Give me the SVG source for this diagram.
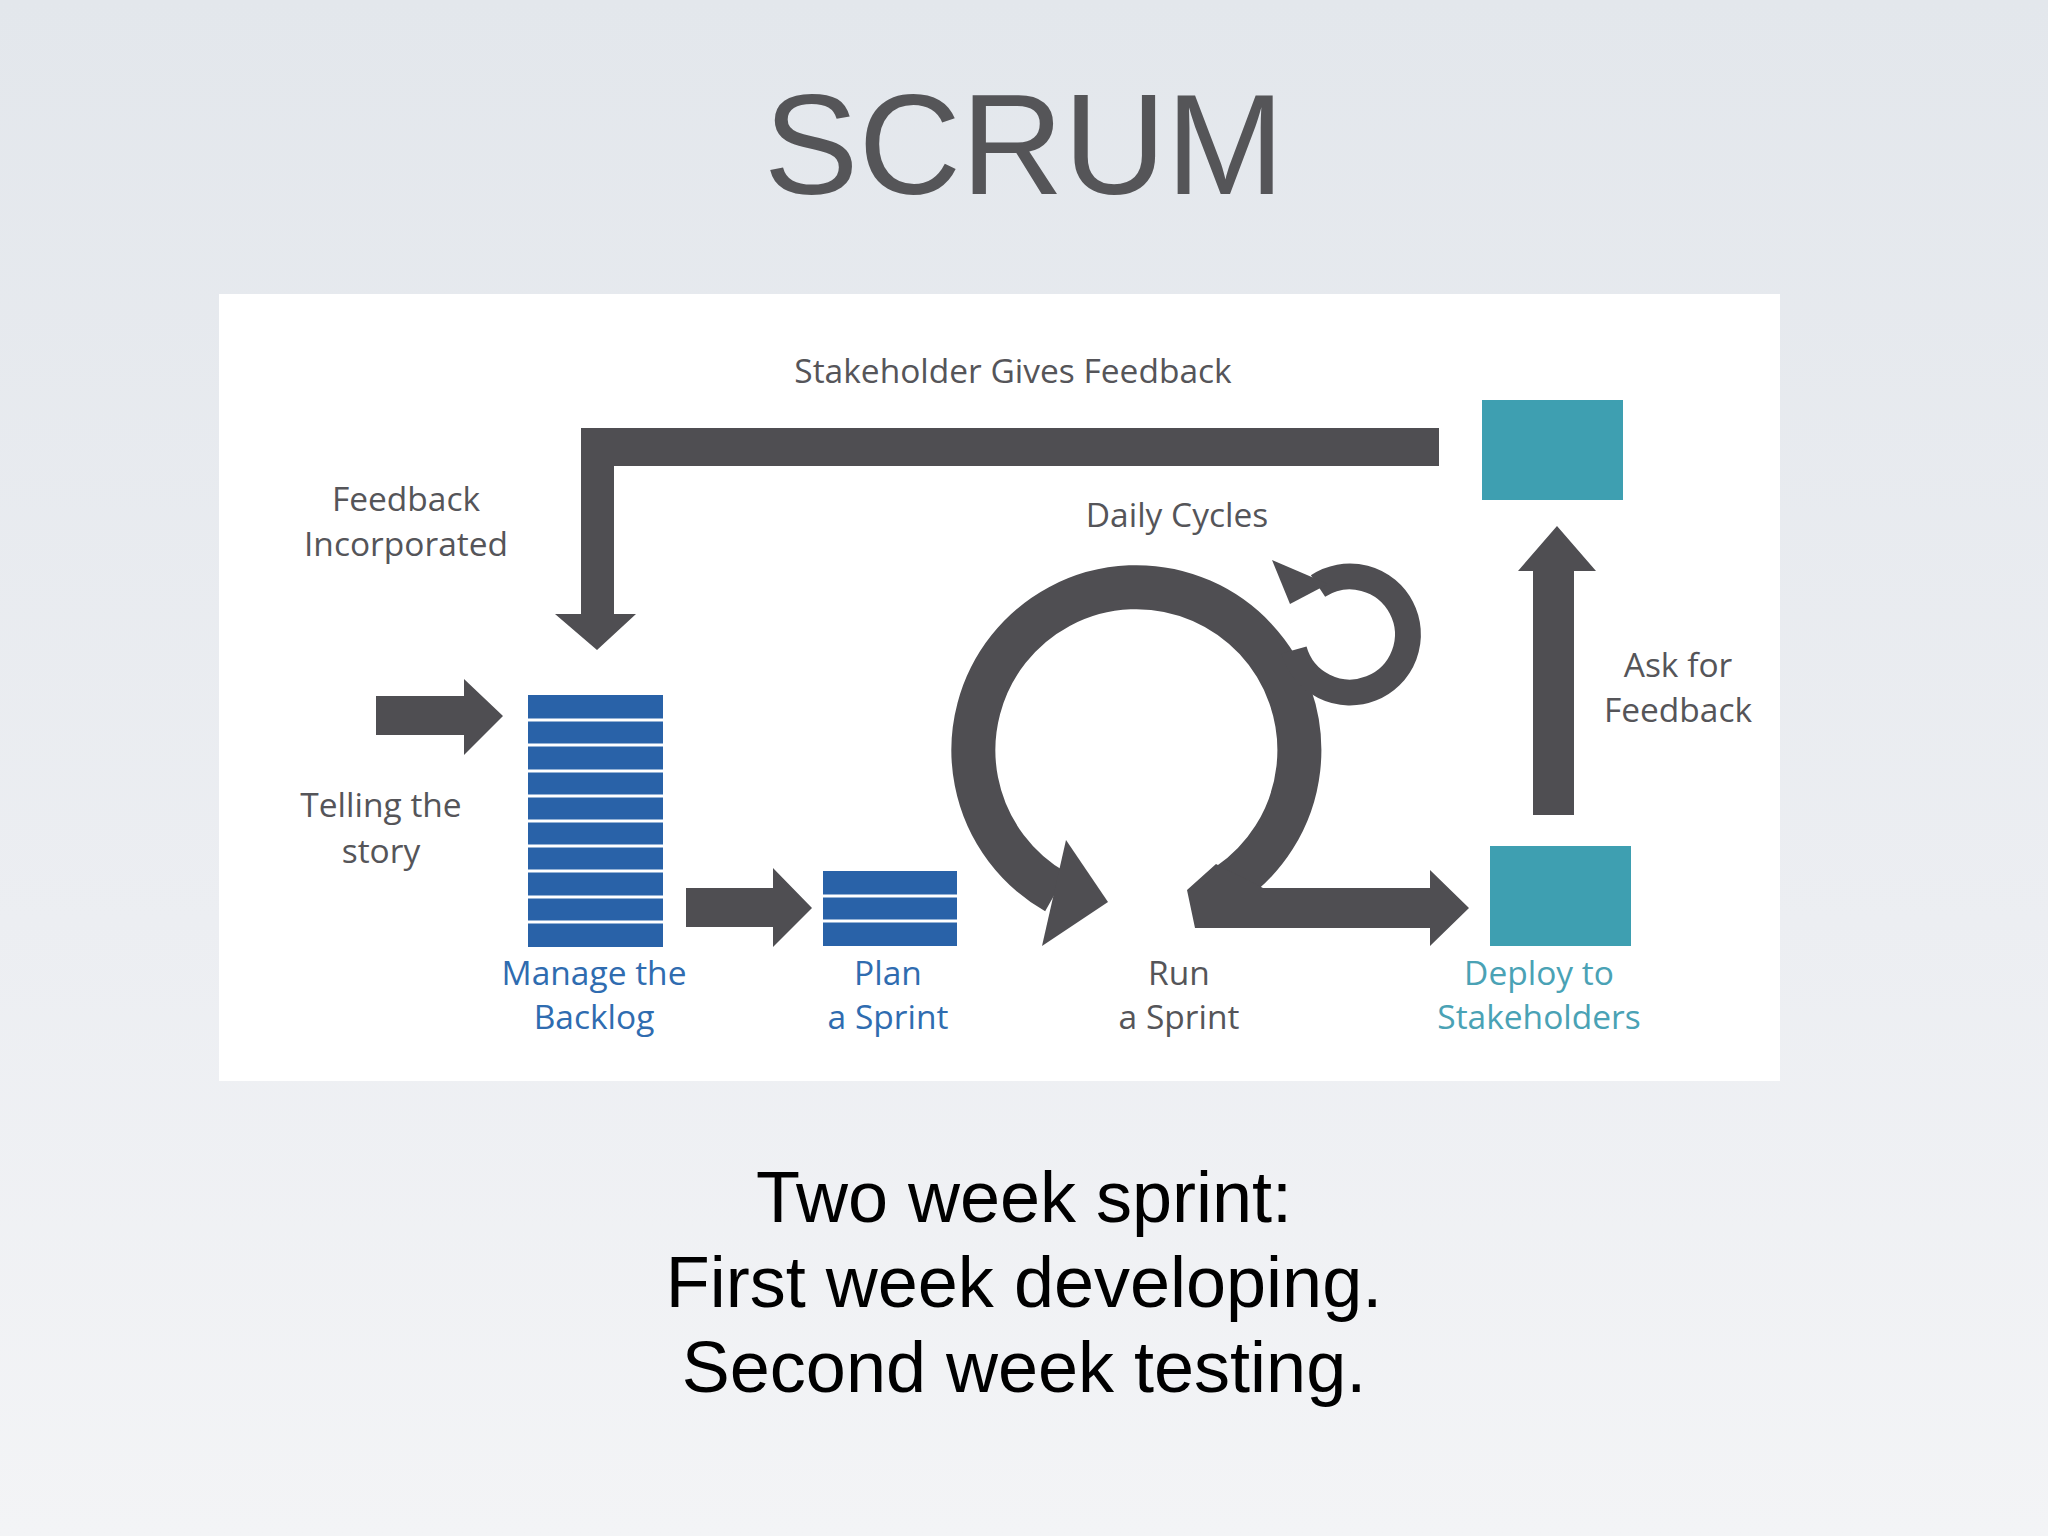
<svg xmlns="http://www.w3.org/2000/svg" width="2048" height="1536" viewBox="0 0 2048 1536">
<defs>
<linearGradient id="bg" x1="0" y1="0" x2="0" y2="1"><stop offset="0" stop-color="#e3e7ec"/><stop offset="0.6" stop-color="#eceef2"/><stop offset="1" stop-color="#f3f4f6"/></linearGradient>
<style>
.lbl{font-family:"Open Sans","Noto Sans",sans-serif;font-size:33.5px;fill:#555559;text-anchor:middle}
.blue{fill:#2f6cb0}.teal{fill:#4aa2b5}
.dk{fill:#4f4e52}
.bottom{font-family:"Liberation Sans",Arial,sans-serif;font-size:72px;fill:#000;text-anchor:middle}
</style>
</defs>
<rect width="2048" height="1536" fill="url(#bg)"/>
<text x="1024" y="194" font-family="Liberation Sans, Arial, sans-serif" font-size="142" fill="#555558" text-anchor="middle">SCRUM</text>
<rect x="219" y="294" width="1561" height="787" fill="#ffffff"/>
<g id="connectors">
<path class="dk" d="M581,428 H1439 V466 H614 V614 H636 L597,650 L555,614 H581 Z"/>
<path class="dk" d="M376,696 H464 V679 L503,716 L464,755 V735 H376 Z"/>
<path class="dk" d="M686,888 H773 V868 L812,908 L773,947 V927 H686 Z"/>
<path class="dk" d="M1533,815 V571 H1518 L1557,526 L1596,571 H1574 V815 Z"/>
<path d="M1056,892 A163,163 0 1 1 1228,885" fill="none" stroke="#4f4e52" stroke-width="44"/>
<path class="dk" d="M1042,946 L1066,840 L1108,902 Z"/>
<path class="dk" d="M1187,890 L1216,864 L1263,888 H1430 V870 L1469,908 L1430,946 V928 H1195 Z"/>
<path d="M1294,650 A58,58 0 1 0 1318,586" fill="none" stroke="#4f4e52" stroke-width="26"/>
<path class="dk" d="M1272,560 L1328,584 L1290,604 Z"/>
</g>
<g id="backlog">
<rect x="528" y="695" width="135" height="252" fill="#2962a8"/>
<g stroke="#ffffff" stroke-width="3">
<line x1="528" y1="720" x2="663" y2="720"/><line x1="528" y1="745" x2="663" y2="745"/><line x1="528" y1="771" x2="663" y2="771"/><line x1="528" y1="796" x2="663" y2="796"/><line x1="528" y1="821" x2="663" y2="821"/><line x1="528" y1="846" x2="663" y2="846"/><line x1="528" y1="871" x2="663" y2="871"/><line x1="528" y1="897" x2="663" y2="897"/><line x1="528" y1="922" x2="663" y2="922"/>
</g>
<text class="lbl blue" x="594" y="985">Manage the</text><text class="lbl blue" x="594" y="1029">Backlog</text>
</g>
<g id="plan">
<rect x="823" y="871" width="134" height="75" fill="#2962a8"/>
<g stroke="#ffffff" stroke-width="3"><line x1="823" y1="896" x2="957" y2="896"/><line x1="823" y1="921" x2="957" y2="921"/></g>
<text class="lbl blue" x="888" y="985">Plan</text><text class="lbl blue" x="888" y="1029">a Sprint</text>
</g>
<g id="run"><text class="lbl" x="1179" y="985">Run</text><text class="lbl" x="1179" y="1029">a Sprint</text></g>
<g id="deploy">
<rect x="1490" y="846" width="141" height="100" fill="#3e9fb1"/>
<text class="lbl teal" x="1539" y="985">Deploy to</text><text class="lbl teal" x="1539" y="1029">Stakeholders</text>
</g>
<g id="stakeholder"><rect x="1482" y="400" width="141" height="100" fill="#3e9fb1"/></g>
<g id="labels">
<text class="lbl" x="1013" y="383">Stakeholder Gives Feedback</text>
<text class="lbl" x="406" y="511">Feedback</text><text class="lbl" x="406" y="556">Incorporated</text>
<text class="lbl" x="1177" y="527">Daily Cycles</text>
<text class="lbl" x="1678" y="677">Ask for</text><text class="lbl" x="1678" y="722">Feedback</text>
<text class="lbl" x="381" y="817">Telling the</text><text class="lbl" x="381" y="863">story</text>
</g>
<text class="bottom" x="1024" y="1222">Two week sprint:</text>
<text class="bottom" x="1024" y="1307">First week developing.</text>
<text class="bottom" x="1024" y="1392">Second week testing.</text>
</svg>
